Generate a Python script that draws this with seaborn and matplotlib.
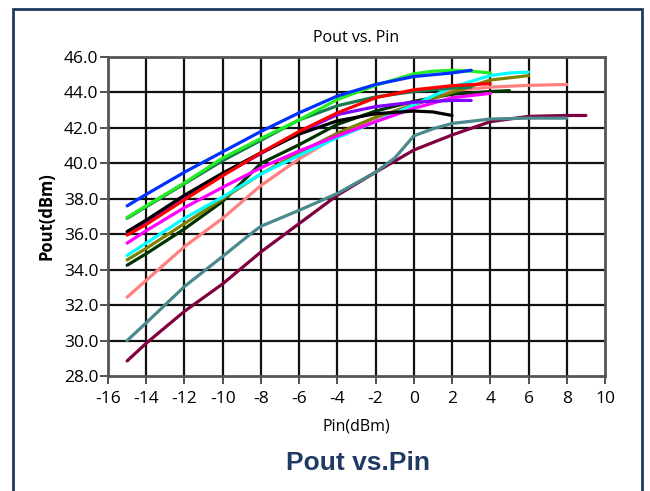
import matplotlib.pyplot as plt
import seaborn as sns
import pandas as pd
from matplotlib.patches import Rectangle
from matplotlib.ticker import FormatStrFormatter

#   Curvas (Pin en dBm, Pout en dBm)
maroon_x = [-15, -14, -12, -10, -8, -6, -4, -2, 0, 2, 4, 6, 8, 9]
maroon_y = [28.85, 29.85, 31.65, 33.2, 35.0, 36.6, 38.2, 39.5, 40.75, 41.6, 42.35, 42.65, 42.7, 42.7]

teal_x = [-15, -14, -12, -10, -8.5, -8, -7, -6, -4, -2, -1, 0, 1, 2, 4, 6, 8]
teal_y = [30.0, 31.0, 33.05, 34.75, 36.05, 36.45, 36.9, 37.35, 38.3, 39.5, 40.3, 41.55, 41.95, 42.25, 42.5, 42.55, 42.55]

salmon_x = [-15, -14, -12, -10, -8, -6, -4, -2, 0, 2, 4, 6, 8]
salmon_y = [32.45, 33.4, 35.3, 36.9, 38.75, 40.25, 41.55, 42.55, 43.35, 44.1, 44.3, 44.4, 44.45]

dkgreen_x = [-15, -14, -12, -10, -8, -6, -4, -2, 0, 2, 4, 5]
dkgreen_y = [34.25, 34.9, 36.3, 37.85, 40.0, 41.05, 42.2, 42.95, 43.5, 43.9, 44.05, 44.1]

olive_x = [-15, -14, -12, -10, -8, -6, -4, -2, 0, 2, 4, 6]
olive_y = [34.55, 35.2, 36.6, 38.0, 39.4, 40.6, 41.7, 42.6, 43.3, 44.0, 44.7, 44.95]

cyan_x = [-15, -14, -12, -10, -8, -6, -4, -2, 0, 2, 4, 5, 6]
cyan_y = [34.8, 35.5, 36.9, 38.1, 39.4, 40.45, 41.45, 42.35, 43.3, 44.3, 44.95, 45.1, 45.15]

magenta_x = [-15, -14, -12, -10, -8, -6, -4, -2, 0, 2, 4]
magenta_y = [35.5, 36.2, 37.5, 38.65, 39.75, 40.7, 41.55, 42.35, 43.1, 43.7, 43.95]

purple_x = [-15, -14, -12, -10, -8, -6, -4, -2, 0, 2, 3]
purple_y = [36.05, 36.7, 38.05, 39.35, 40.55, 41.75, 42.75, 43.2, 43.45, 43.55, 43.55]

seagreen_x = [-15, -14, -12, -10, -8, -6, -4, -2, 0, 2, 3]
seagreen_y = [36.9, 37.55, 38.85, 40.15, 41.3, 42.45, 43.25, 43.75, 44.05, 44.25, 44.3]

black_x = [-15, -14, -12, -10, -8, -6, -4, -2, 0, 1, 2]
black_y = [36.15, 36.8, 38.2, 39.45, 40.6, 41.65, 42.4, 42.8, 42.95, 42.9, 42.7]

red_x = [-15, -14, -12, -10, -8, -6, -4, -2, 0, 2, 4]
red_y = [35.95, 36.55, 37.95, 39.3, 40.6, 41.8, 42.85, 43.7, 44.15, 44.38, 44.5]

green_x = [-15, -14, -12, -10, -8, -6, -4, -2, 0, 1, 2, 3, 4]
green_y = [36.95, 37.6, 38.9, 40.3, 41.4, 42.45, 43.6, 44.4, 45.05, 45.2, 45.25, 45.2, 45.1]

blue_x = [-15, -14, -12, -10, -8, -6, -4, -2, 0, 2, 3]
blue_y = [37.6, 38.25, 39.5, 40.65, 41.8, 42.85, 43.8, 44.45, 44.9, 45.1, 45.25]

curvas = [
    ('maroon', maroon_x, maroon_y, '#800040'),
    ('teal', teal_x, teal_y, '#4a8a8c'),
    ('salmon', salmon_x, salmon_y, '#ff8080'),
    ('dkgreen', dkgreen_x, dkgreen_y, '#003300'),
    ('olive', olive_x, olive_y, '#808000'),
    ('cyan', cyan_x, cyan_y, '#00ffff'),
    ('magenta', magenta_x, magenta_y, '#ff00ff'),
    ('purple', purple_x, purple_y, '#8000ff'),
    ('seagreen', seagreen_x, seagreen_y, '#1a7a50'),
    ('black', black_x, black_y, '#000000'),
    ('red', red_x, red_y, '#ff0000'),
    ('green', green_x, green_y, '#22ee22'),
    ('blue', blue_x, blue_y, '#0030ff'),
]

filas = []
for nombre, xs, ys, _ in curvas:
    for x, y in zip(xs, ys):
        filas.append({'Pin': x, 'Pout': y, 'curva': nombre})
df = pd.DataFrame(filas)
paleta = {nombre: color for nombre, _, _, color in curvas}

sns.set_style('white')
plt.rcParams['font.family'] = ['Open Sans', 'DejaVu Sans']
plt.rcParams['axes.unicode_minus'] = False
plt.rcParams['text.color'] = 'black'
plt.rcParams['axes.labelcolor'] = 'black'
plt.rcParams['xtick.labelcolor'] = 'black'
plt.rcParams['ytick.labelcolor'] = 'black'

fig = plt.figure(figsize=(6.5, 4.91), dpi=100)
ax = fig.add_axes([108/650, 1 - 376/491, (605 - 108)/650, (376 - 57)/491])

#   Cuadricula negra
for xv in range(-14, 10, 2):
    ax.axvline(xv, color='#111111', lw=1.6, zorder=1)
for yv in range(30, 46, 2):
    ax.axhline(yv, color='#111111', lw=1.6, zorder=1)

sns.lineplot(data=df, x='Pin', y='Pout', hue='curva', palette=paleta,
             hue_order=[c[0] for c in curvas], sort=False, estimator=None,
             linewidth=2.3, legend=False, ax=ax, zorder=3)

ax.set_xlim(-16, 10)
ax.set_ylim(28, 46)
ax.set_xticks(range(-16, 11, 2))
ax.set_yticks(range(28, 47, 2))
ax.yaxis.set_major_formatter(FormatStrFormatter('%.1f'))
ax.tick_params(axis='both', direction='out', length=6, width=1.2,
               color='#333333', labelsize=12.5, bottom=True, left=True)
ax.tick_params(axis='x', pad=5)
ax.tick_params(axis='y', pad=1)
for s in ax.spines.values():
    s.set_color('#555555')
    s.set_linewidth(2)

ax.set_title('Pout vs. Pin', fontsize=11.5, pad=11)
ax.set_xlabel('Pin(dBm)', fontsize=11.5, labelpad=8)
ax.set_ylabel('Pout(dBm)', fontsize=12, fontweight='bold', labelpad=6)

fig.text(358/650, 1 - 463/491, 'Pout vs.Pin', ha='center', va='center',
         fontsize=19, fontweight='bold', color='#1f3a63',
         family=['Liberation Sans', 'DejaVu Sans'])

#   Marco exterior azul
fig.patches.append(Rectangle((13/650, -0.1), (642 - 13)/650, 1 - 9/491 + 0.1,
                             transform=fig.transFigure, fill=False,
                             edgecolor='#1f3a60', linewidth=2))

fig.savefig('out.png', dpi=100)
